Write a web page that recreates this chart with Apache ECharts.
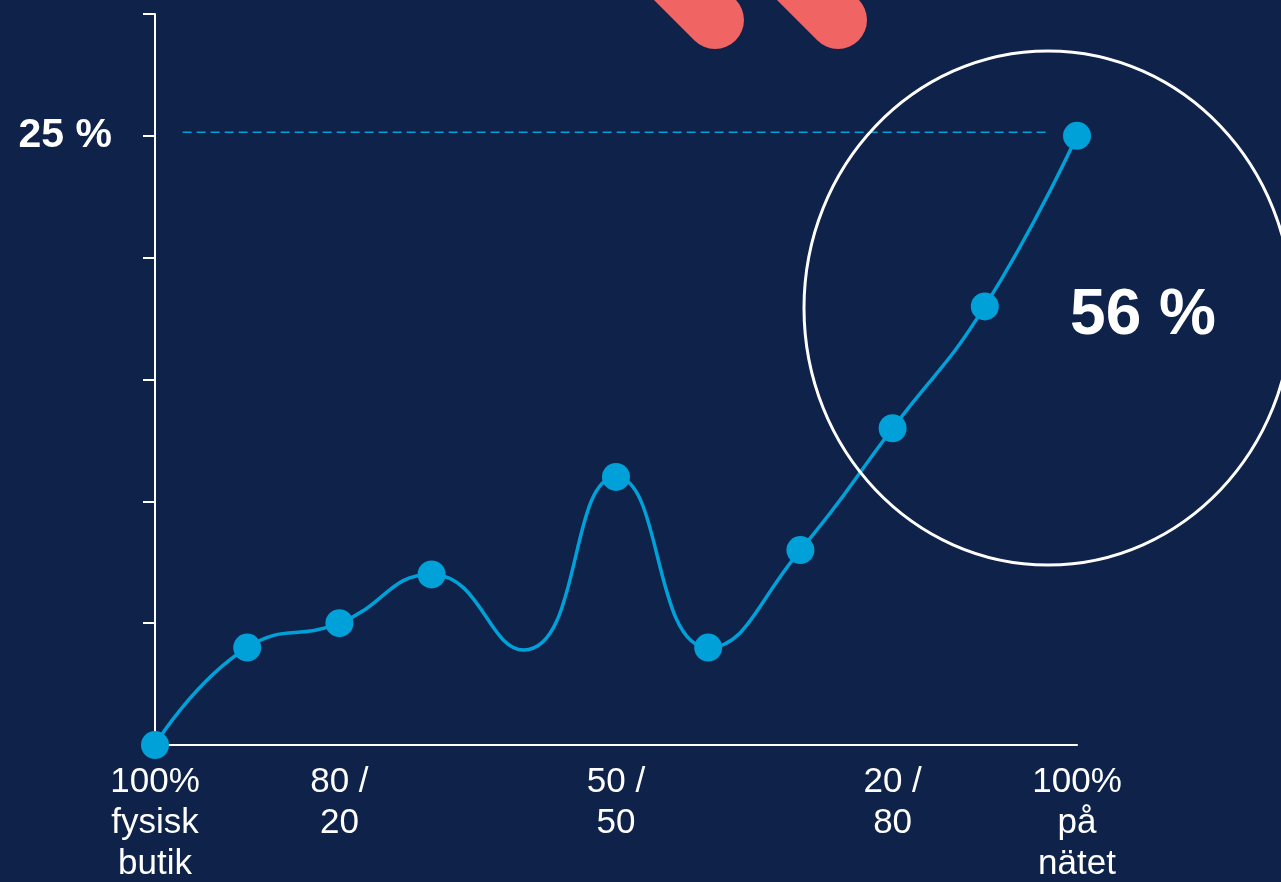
<!DOCTYPE html>
<html>
<head>
<meta charset="utf-8">
<script src="https://cdn.jsdelivr.net/npm/echarts@6/dist/echarts.min.js"></script>
<style>
html,body{margin:0;padding:0;background:#0E224A;}
#c{width:1281px;height:882px;}
</style>
</head>
<body>
<div id="c"></div>
<script>
var categories = ['100%\nfysisk\nbutik', '', '80 /\n20', '', '', '50 /\n50', '', '', '20 /\n80', '', '100%\npå\nnätet'];
var values = [0, 4, 5, 7, 3.9, 11, 4, 8, 13, 18, 25];
var hiddenMarker = [4];
var yTickLabels = {25: '25 %'};
var referenceLine = [[0.3, 25.15], [9.7, 25.15]];
var highlightText = '56 %';

var FONT = '"Liberation Sans", Arial, sans-serif';
var BLUE = '#00A0D8';

var seriesData = values.map(function (v, i) {
  var d = {value: v};
  if (hiddenMarker.indexOf(i) >= 0) d.symbolSize = 0;
  return d;
});

var chart = echarts.init(document.getElementById('c'), null, {renderer: 'canvas'});
chart.setOption({
  backgroundColor: '#0E224A',
  animation: false,
  grid: {left: 155, right: 204, top: 14, bottom: 137, outerBoundsMode: 'none', containLabel: false},
  xAxis: [{
    type: 'category',
    data: categories,
    boundaryGap: false,
    axisLine: {lineStyle: {color: '#FFFFFF', width: 2}},
    axisTick: {show: false},
    axisLabel: {
      interval: 0, color: '#FFFFFF', fontFamily: FONT, fontSize: 35,
      lineHeight: 41, margin: 17
    },
    splitLine: {show: false}
  }, {
    type: 'value',
    min: 0, max: categories.length - 1,
    show: false,
    position: 'bottom'
  }],
  yAxis: {
    type: 'value',
    min: 0, max: 30, interval: 5,
    axisLine: {show: true, lineStyle: {color: '#FFFFFF', width: 2}},
    axisTick: {show: true, length: 12, lineStyle: {color: '#FFFFFF', width: 2}},
    axisLabel: {
      color: '#FFFFFF', fontFamily: FONT, fontSize: 41, fontWeight: 'bold', margin: 43,
      formatter: function (v) { return yTickLabels[v] || ''; }
    },
    splitLine: {show: false}
  },
  series: [{
    type: 'line',
    xAxisIndex: 1,
    data: referenceLine,
    symbol: 'none',
    silent: true,
    lineStyle: {color: BLUE, type: [9, 5], width: 1.5},
    z: 3
  }, {
    type: 'line',
    data: seriesData,
    smooth: 0.5,
    clip: false,
    symbol: 'circle',
    symbolSize: 28,
    lineStyle: {color: BLUE, width: 3.5},
    itemStyle: {color: BLUE},
    z: 5
  }],
  graphic: [
    {type: 'line', shape: {x1: 640, y1: -55, x2: 715, y2: 20}, style: {stroke: '#F06464', lineWidth: 58, lineCap: 'round'}, z: 1},
    {type: 'line', shape: {x1: 763, y1: -55, x2: 838, y2: 20}, style: {stroke: '#F06464', lineWidth: 58, lineCap: 'round'}, z: 1},
    {type: 'ellipse', shape: {cx: 1048, cy: 308, rx: 244, ry: 257}, style: {fill: 'none', stroke: '#FFFFFF', lineWidth: 3}, z: 10},
    {type: 'text', x: 1143, y: 316, style: {text: highlightText, fill: '#FFFFFF', font: 'bold 64px ' + FONT, textAlign: 'center', textVerticalAlign: 'middle'}, z: 11}
  ]
});
</script>
</body>
</html>
